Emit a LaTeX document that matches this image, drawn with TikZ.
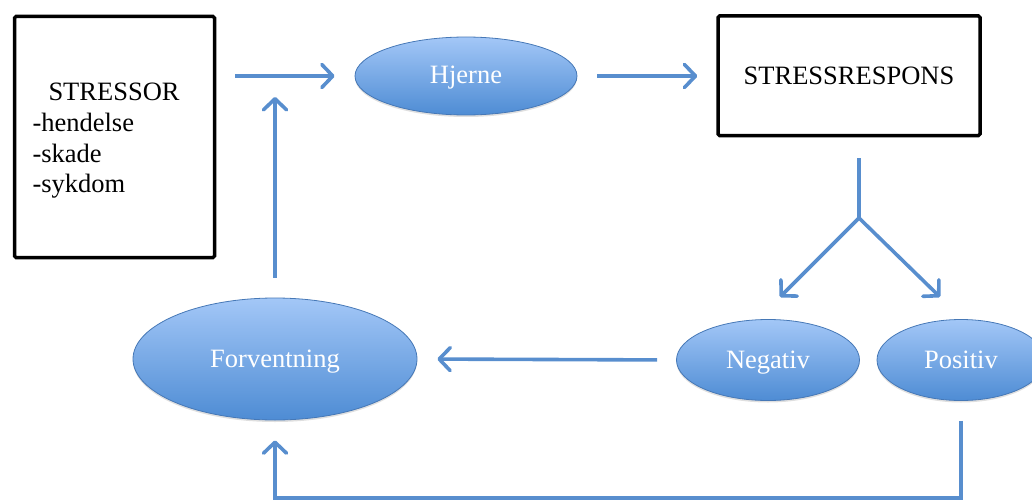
\documentclass[tikz,border=0pt]{standalone}
\usepackage{fontspec}
\setmainfont{Liberation Serif}
\usepackage{tikz}
\usetikzlibrary{arrows.meta,positioning,calc,shapes.geometric,shadows}
\definecolor{arrowblue}{RGB}{88,142,206}
\definecolor{ovaltop}{RGB}{163,199,247}
\definecolor{ovalbot}{RGB}{78,140,212}
\definecolor{ovalline}{RGB}{70,120,182}

\begin{document}
\begin{tikzpicture}[x=1pt,y=-1pt,font=\fontsize{26.5}{30.7}\selectfont,
  box/.style={draw=black,line width=3.5pt,rounded corners=1.5pt,inner sep=0pt},
  oval/.style={ellipse,draw=ovalline,line width=0.8pt,top color=ovaltop,bottom color=ovalbot,text=white,inner sep=0pt,
    text height=17.5pt,text depth=1.5pt,drop shadow={opacity=0.25,shadow xshift=0pt,shadow yshift=-2pt}},
  line/.style={draw=arrowblue,line width=3.6pt},
  arr/.style={line,-{Straight Barb[length=11pt,width=23pt,line width=0pt 1,round]}}]
\useasboundingbox (0,0) rectangle (1032,500);
\node[box,minimum width=200pt,minimum height=241pt,text width=164pt,align=left] (stressor) at (114.5,137)
  {\rule{0pt}{25.5pt}\hspace*{16pt}STRESSOR\\-hendelse\\-skade\\-sykdom};
\node[oval,minimum width=222pt,minimum height=78pt] (hjerne) at (466,76) {Hjerne};
\node[box,minimum width=262pt,minimum height=119.5pt] (respons) at (849,75.75) {STRESSRESPONS};
\node[oval,minimum width=183pt,minimum height=81pt] (negativ) at (768,360) {Negativ};
\node[oval,minimum width=168pt,minimum height=81pt] (positiv) at (961,360) {Positiv};
\node[oval,minimum width=284pt,minimum height=122pt] (forventning) at (275,359) {Forventning};
\coordinate (merge) at (275,76);
\coordinate (split) at (859,218);
\coordinate (negtip) at (780,297);
\coordinate (postip) at (940,297);
\draw[arr,shorten <=19pt,shorten >=20pt] (stressor.east |- hjerne.west) -- (hjerne.west);
\draw[arr,shorten <=20pt,shorten >=19pt] (hjerne.east) -- (respons.west |- hjerne.east);
\draw[line,shorten <=21pt] (split |- respons.south) -- (split);
\foreach \t in {negtip,postip} \draw[arr] (split) -- (\t);
\draw[arr,shorten <=19pt,shorten >=20pt] (negativ.west) -- (forventning.east);
\draw[arr,shorten <=20pt,shorten >=21pt] (forventning.north) -- (merge);
\draw[arr,shorten <=20pt,shorten >=20pt] (positiv.south) -- ++(0,97) -| (forventning.south);
\end{tikzpicture}
\end{document}
